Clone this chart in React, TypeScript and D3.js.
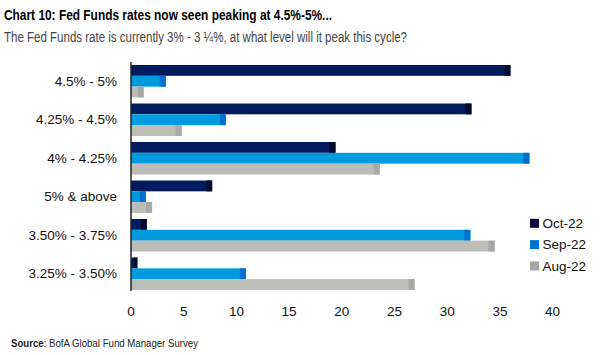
import React from "react";
import * as d3 from "d3";

const categories = ["4.5% - 5%", "4.25% - 4.5%", "4% - 4.25%", "5% & above", "3.50% - 3.75%", "3.25% - 3.50%"];
const seriesNames = ["Oct-22", "Sep-22", "Aug-22"];
const oct22 = [36.0, 32.3, 19.4, 7.7, 1.5, 0.6];
const sep22 = [3.3, 9.0, 37.8, 1.4, 32.2, 10.9];
const aug22 = [1.2, 4.8, 23.6, 2.0, 34.5, 26.9];
const xTicks = [0, 5, 10, 15, 20, 25, 30, 35, 40];

const seriesValues = [oct22, sep22, aug22];
const barColors = ["#021a5e", "#009bdf", "#bdbdb8"];
const capColors = ["#000a2e", "#0070d0", "#a8a8a4"];
const legendColors = ["#0a0a3a", "#0073d1", "#a6a6a6"];

const W = 600;
const H = 355;
const FONT = "'Liberation Sans', Arial, sans-serif";

export default function App() {
  const x = d3.scaleLinear().domain([0, 40]).range([131, 552.6]);
  const y = d3
    .scaleBand<string>()
    .domain(categories)
    .range([62, 293])
    .paddingInner(0.156)
    .paddingOuter(0.078);
  const inner = d3.scaleBand<string>().domain(seriesNames).range([0, y.bandwidth()]);

  return (
    <svg
      width={W}
      height={H}
      style={{ position: "absolute", left: 0, top: 0, background: "#fff" }}
      fontFamily={FONT}
    >
      <text
        x={4}
        y={20}
        fontSize={15}
        fontWeight="bold"
        fill="#000"
        textLength={328}
        lengthAdjust="spacingAndGlyphs"
      >
        Chart 10: Fed Funds rates now seen peaking at 4.5%-5%...
      </text>
      <text
        x={4}
        y={42}
        fontSize={14}
        fill="#444"
        textLength={403}
        lengthAdjust="spacingAndGlyphs"
      >
        The Fed Funds rate is currently 3% - 3 ¼%, at what level will it peak this cycle?
      </text>

      {categories.map((c, ci) => (
        <g key={c}>
          {seriesNames.map((s, si) => {
            const v = seriesValues[si][ci];
            const y0 = (y(c) ?? 0) + (inner(s) ?? 0);
            const x1 = x(v);
            const w = x1 - x(0);
            const cap = Math.min(6, w * 0.5);
            return (
              <g key={s}>
                <rect x={x(0)} y={y0} width={w} height={inner.bandwidth()} fill={barColors[si]} />
                <rect x={x1 - cap} y={y0} width={cap} height={inner.bandwidth()} fill={capColors[si]} />
              </g>
            );
          })}
          <text
            x={117}
            y={(y(c) ?? 0) + y.bandwidth() / 2}
            dy="0.35em"
            textAnchor="end"
            fontSize={13.5}
            fill="#111"
          >
            {c}
          </text>
        </g>
      ))}

      <line x1={x(0)} x2={x(0)} y1={62} y2={291} stroke="#222" strokeWidth={1.5} />

      {xTicks.map((t) => (
        <text key={t} x={x(t)} y={316} textAnchor="middle" fontSize={13.5} fill="#111">
          {t}
        </text>
      ))}

      {seriesNames.map((s, i) => (
        <g key={s} transform={`translate(530, ${223.3 + i * 21.3})`}>
          <rect x={0} y={-4.5} width={9} height={9} fill={legendColors[i]} />
          <text x={12.5} y={0} dy="0.35em" fontSize={13.5} fill="#111">
            {s}
          </text>
        </g>
      ))}

      <text x={11} y={347} fontSize={10.5} fill="#222" textLength={187} lengthAdjust="spacingAndGlyphs">
        <tspan fontWeight="bold">Source</tspan>
        <tspan>: BofA Global Fund Manager Survey</tspan>
      </text>
    </svg>
  );
}
